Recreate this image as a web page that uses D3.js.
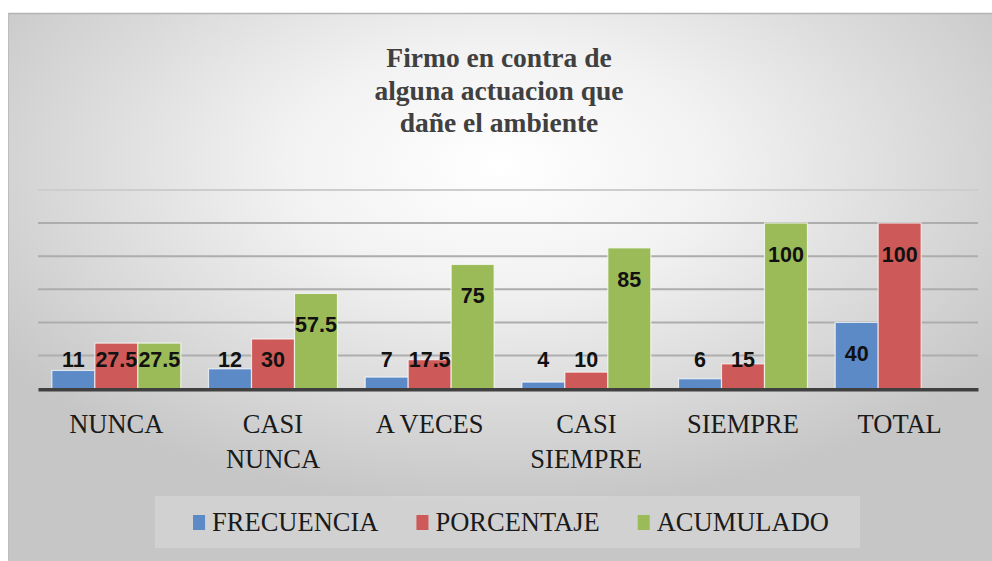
<!DOCTYPE html>
<html>
<head>
<meta charset="utf-8">
<script src="https://cdn.jsdelivr.net/npm/d3@7/dist/d3.min.js"></script>
<style>
html,body{margin:0;padding:0;background:#fff;}
svg{display:block;}
.serif{font-family:"Times New Roman",Times,"Liberation Serif","Nimbus Roman","Nimbus Roman No9 L",Tinos,"FreeSerif","Noto Serif","DejaVu Serif",serif;}
.sans{font-family:"Liberation Sans",Arial,sans-serif;}
</style>
</head>
<body>
<svg id="chart" width="992" height="561"></svg>
<script>
const titleLines = ["Firmo en contra de", "alguna actuacion que", "dañe el ambiente"];
const categories = ["NUNCA", "CASI NUNCA", "A VECES", "CASI SIEMPRE", "SIEMPRE", "TOTAL"];
const seriesNames = ["FRECUENCIA", "PORCENTAJE", "ACUMULADO"];
const frecuencia = [11, 12, 7, 4, 6, 40];
const porcentaje = [27.5, 30, 17.5, 10, 15, 100];
const acumulado = [27.5, 57.5, 75, 85, 100, null];
const yTicks = [20, 40, 60, 80, 100, 120];
const colors = ["#5B8AC6", "#CD5A59", "#9BBB59"];

const seriesValues = [frecuencia, porcentaje, acumulado];

const svg = d3.select("#chart");
const W = 992, H = 561;

// background
const defs = svg.append("defs");
const rg = defs.append("radialGradient").attr("id", "bg")
  .attr("cx", 0.5).attr("cy", 0.28).attr("r", 0.62);
rg.append("stop").attr("offset", 0).attr("stop-color", "#ffffff");
rg.append("stop").attr("offset", 0.35).attr("stop-color", "#f2f2f2");
rg.append("stop").attr("offset", 1).attr("stop-color", "#c6c6c6");

svg.append("rect").attr("x", 8).attr("y", 13).attr("width", W - 8).attr("height", H - 13)
  .attr("fill", "url(#bg)");
svg.append("line").attr("x1", 8).attr("x2", W).attr("y1", 13.5).attr("y2", 13.5)
  .attr("stroke", "#b4b4b4").attr("stroke-width", 1.5);
svg.append("line").attr("x1", 8.5).attr("x2", 8.5).attr("y1", 13).attr("y2", H)
  .attr("stroke", "#bdbdbd").attr("stroke-width", 1);

// title
const title = svg.append("text")
  .attr("class", "serif")
  .attr("text-anchor", "middle")
  .style("font-weight", "bold")
  .style("font-size", "27.5px")
  .attr("fill", "#404040");
titleLines.forEach((t, i) => {
  title.append("tspan").attr("x", 499).attr("y", 67 + i * 32.5).text(t);
});

// scales
const x0 = d3.scaleBand().domain(categories).range([38, 978])
  .paddingInner(0.177).paddingOuter(0.0885);
const x1 = d3.scaleBand().domain(seriesNames).range([0, x0.bandwidth()]).padding(0);
const y = d3.scaleLinear().domain([0, 120]).range([388.7, 189.9]);

// gridlines
svg.append("g").selectAll("line").data(yTicks).join("line")
  .attr("x1", 38).attr("x2", 978)
  .attr("y1", d => y(d)).attr("y2", d => y(d))
  .attr("stroke", d => d === 120 ? "#cdcdcd" : "#adadad")
  .attr("stroke-width", 2);

// bars
const barData = [];
categories.forEach((c, i) => {
  seriesNames.forEach((s, j) => {
    const v = seriesValues[j][i];
    if (v !== null && v !== undefined) barData.push({ c, s, j, v });
  });
});

svg.append("g").selectAll("rect").data(barData).join("rect")
  .attr("x", d => x0(d.c) + x1(d.s))
  .attr("y", d => y(d.v))
  .attr("width", x1.bandwidth())
  .attr("height", d => y(0) - y(d.v))
  .attr("fill", d => colors[d.j])
  .attr("stroke", "#ffffff")
  .attr("stroke-opacity", 0.7)
  .attr("stroke-width", 1.2);

// axis line
const xAxis = d3.axisBottom(x0).tickSize(0).tickFormat("");
const axG = svg.append("g").attr("transform", `translate(0,${y(0) + 0.5})`).call(xAxis);
axG.select(".domain").attr("stroke", "#404040").attr("stroke-width", 3.5);

// data labels
svg.append("g").selectAll("text").data(barData).join("text")
  .attr("class", "sans")
  .attr("x", d => x0(d.c) + x1(d.s) + x1.bandwidth() / 2)
  .attr("y", d => Math.min(y(d.v) + 31, y(0) - 29))
  .attr("dy", "0.36em")
  .attr("text-anchor", "middle")
  .style("font-weight", "bold")
  .style("font-size", "21.5px")
  .attr("fill", "#111")
  .text(d => String(d.v));

// category labels with wrapping
const catG = svg.append("g")
  .attr("class", "serif")
  .style("font-size", "26.5px")
  .attr("fill", "#1a1a1a")
  .attr("text-anchor", "middle");
categories.forEach(c => {
  const cx = x0(c) + x0.bandwidth() / 2;
  const full = x0.step();
  const t = catG.append("text").attr("x", cx).attr("y", 433).text(c);
  if (t.node().getComputedTextLength() > full - 4) {
    const words = c.split(" ");
    t.text(null);
    words.forEach((w, k) => {
      t.append("tspan").attr("x", cx).attr("y", 433 + k * 35).text(w);
    });
  }
});

// legend
const legG = svg.append("g")
  .attr("class", "serif")
  .style("font-size", "26.5px")
  .attr("fill", "#1a1a1a");
legG.append("rect").attr("x", 155).attr("y", 496).attr("width", 705).attr("height", 52)
  .attr("fill", "#ffffff").attr("fill-opacity", 0.2);
let cursor = 0;
const items = [];
seriesNames.forEach((s, j) => {
  const g = legG.append("g");
  g.append("rect").attr("x", 0).attr("y", -16).attr("width", 12).attr("height", 15)
    .attr("fill", colors[j]);
  const t = g.append("text").attr("x", 19).attr("y", 0).text(s);
  const w = 19 + t.node().getComputedTextLength();
  items.push({ g, x: cursor });
  cursor += w + 38;
});
const total = cursor - 38;
const startX = 511 - total / 2;
items.forEach(it => it.g.attr("transform", `translate(${startX + it.x},531)`));
</script>
</body>
</html>
